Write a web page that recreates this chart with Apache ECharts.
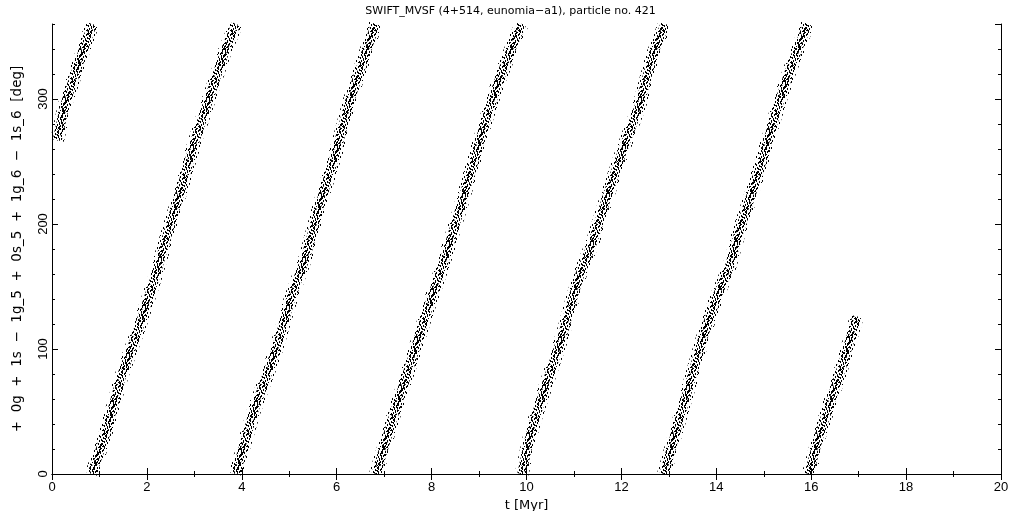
<!DOCTYPE html>
<html>
<head>
<meta charset="utf-8">
<script src="https://cdn.jsdelivr.net/npm/echarts@6/dist/echarts.min.js"></script>
<style>
html,body{margin:0;padding:0;background:#fff;}
#chart{width:1021px;height:511px;}
</style>
</head>
<body>
<div id="chart"></div>
<script>
// ---- data: [t (Myr), angle (deg)] along each circulation band ----
const band1 = [[0.11,267],[0.27,295],[0.55,327],[0.85,360]];
const band2 = [[0.84,0],[1.12,31],[1.47,79],[1.82,116],[2.17,157],[2.45,194],[2.73,229],[3.01,266],[3.36,306],[3.64,338],[3.88,360]];
const band3 = [[3.87,0],[4.25,50],[4.70,97],[5.03,140],[5.36,175],[5.64,215],[5.99,258],[6.27,298],[6.55,330],[6.82,360]];
const band4 = [[6.83,0],[7.20,47],[7.57,90],[7.92,132],[8.27,171],[8.59,211],[8.85,245],[9.15,284],[9.43,316],[9.71,343],[9.90,360]];
const band5 = [[9.90,0],[10.06,28],[10.20,47],[10.48,79],[10.76,111],[10.97,140],[11.12,159],[11.40,186],[11.68,220],[12.00,256],[12.38,295],[12.66,335],[12.92,360]];
const band6 = [[12.90,0],[13.15,34],[13.43,71],[13.71,108],[13.99,140],[14.27,165],[14.48,194],[14.69,218],[14.91,244],[15.12,271],[15.33,298],[15.54,322],[15.75,343],[15.93,360]];
const band7 = [[15.95,0],[16.17,31],[16.38,55],[16.59,79],[16.76,100],[16.91,119],[16.96,126]];
const bands = [band1, band2, band3, band4, band5, band6, band7];

const xTicks = {min: 0, max: 20, interval: 2};
const yTicks = {min: 0, max: 360, interval: 100, minorInterval: 20};

const titleText = 'SWIFT_MVSF (4+514, eunomia\u2212a1), particle no. 421';
const xName = 't [Myr]';
const yName = '+  0g  +  1s  \u2212  1g_5  +  0s_5  +  1g_6  \u2212  1s_6  [deg]';

// ---- speckle textures used to render the dense point clouds ----
const midTile = [
  '1000100010010001',
  '1001100000010011',
  '0001001000100010',
  '0100001001100000',
  '0100100001000100',
  '0000100100001100',
  '1010000100001000',
  '1000010001000001',
  '0001010000100001',
  '0001000110100000',
  '0100000010000110',
  '0110010000010100',
  '0010010001010000',
  '0000000101000010',
  '1001001100001010',
  '1001000000100010'
];
const innerTile = midTile.map(r => r.split('').reverse().join('')).reverse();
const haloTile = [
  '1000000000100000',
  '1000000100000000',
  '0000000100000010',
  '0001000000000010',
  '0001000000100000',
  '0000000000100000',
  '0100000001000000',
  '0100000000000100',
  '0000001000000100',
  '0000001000000000',
  '0000000000010000',
  '1000000000010000',
  '0000100000000001',
  '0000100000000001',
  '0000000010000000',
  '0010000010000000'
];
function makePattern(rows) {
  const c = document.createElement('canvas');
  c.width = rows[0].length; c.height = rows.length;
  const ctx = c.getContext('2d');
  ctx.fillStyle = '#000';
  rows.forEach((r, y) => { for (let x = 0; x < r.length; x++) if (r[x] === '1') ctx.fillRect(x, y, 1, 1); });
  return {image: c, repeat: 'repeat'};
}
const layers = [
  {width: 14, color: makePattern(haloTile), z: 2},
  {width: 9, color: makePattern(midTile), z: 3},
  {width: 4, color: makePattern(innerTile), z: 4}
];

const FONT = 'Liberation Sans';
const black = '#000';

const chart = echarts.init(document.getElementById('chart'), null, {renderer: 'canvas'});

const series = [];
bands.forEach(b => {
  layers.forEach(l => {
    series.push({type: 'line', data: b, showSymbol: false, symbol: 'none', clip: true, silent: true,
      lineStyle: {width: l.width, color: l.color, cap: 'butt'}, z: l.z});
  });
});

const axisLine = {show: true, lineStyle: {color: black, width: 1}};

chart.setOption({
  animation: false,
  backgroundColor: '#fff',
  title: {
    text: titleText, left: 'center', top: 1,
    textStyle: {fontFamily: 'DejaVu Sans', fontSize: 11, fontWeight: 'normal', color: black}
  },
  grid: {left: 52, top: 24, width: 949, height: 450, show: false, containLabel: false, outerBoundsMode: 'none'},
  xAxis: [
    {type: 'value', position: 'bottom', min: xTicks.min, max: xTicks.max, interval: xTicks.interval,
     axisLine: axisLine, axisTick: {show: true, inside: true, length: 6, lineStyle: {color: black}},
     minorTick: {show: true, splitNumber: 2, length: 3, lineStyle: {color: black}},
     axisLabel: {color: black, fontFamily: FONT, fontSize: 13, margin: 7},
     splitLine: {show: false},
     name: xName, nameLocation: 'middle', nameGap: 18,
     nameTextStyle: {color: black, fontFamily: 'DejaVu Sans', fontSize: 13}},
    {type: 'value', position: 'top', min: xTicks.min, max: xTicks.max, interval: xTicks.interval,
     axisLine: axisLine, axisTick: {show: true, inside: true, length: 6, lineStyle: {color: black}},
     minorTick: {show: true, splitNumber: 2, length: 3, lineStyle: {color: black}},
     axisLabel: {show: false}, splitLine: {show: false}}
  ],
  yAxis: [
    {type: 'value', position: 'left', min: yTicks.min, max: yTicks.max, interval: yTicks.interval,
     axisLine: axisLine, axisTick: {show: true, inside: true, length: 6, lineStyle: {color: black}},
     axisLabel: {color: black, fontFamily: FONT, fontSize: 13, rotate: 90, margin: 2, showMaxLabel: false},
     splitLine: {show: false},
     name: yName, nameLocation: 'middle', nameRotate: 90, nameGap: 28,
     nameTextStyle: {color: black, fontFamily: 'DejaVu Sans', fontSize: 13.5}},
    {type: 'value', position: 'left', min: yTicks.min, max: yTicks.max, interval: yTicks.minorInterval,
     axisLine: {show: false}, axisTick: {show: true, inside: true, length: 3, lineStyle: {color: black}},
     axisLabel: {show: false}, splitLine: {show: false}},
    {type: 'value', position: 'right', min: yTicks.min, max: yTicks.max, interval: yTicks.interval,
     axisLine: axisLine, axisTick: {show: true, inside: true, length: 6, lineStyle: {color: black}},
     axisLabel: {show: false}, splitLine: {show: false}},
    {type: 'value', position: 'right', min: yTicks.min, max: yTicks.max, interval: yTicks.minorInterval,
     axisLine: {show: false}, axisTick: {show: true, inside: true, length: 3, lineStyle: {color: black}},
     axisLabel: {show: false}, splitLine: {show: false}}
  ],
  series: series
});
</script>
</body>
</html>
